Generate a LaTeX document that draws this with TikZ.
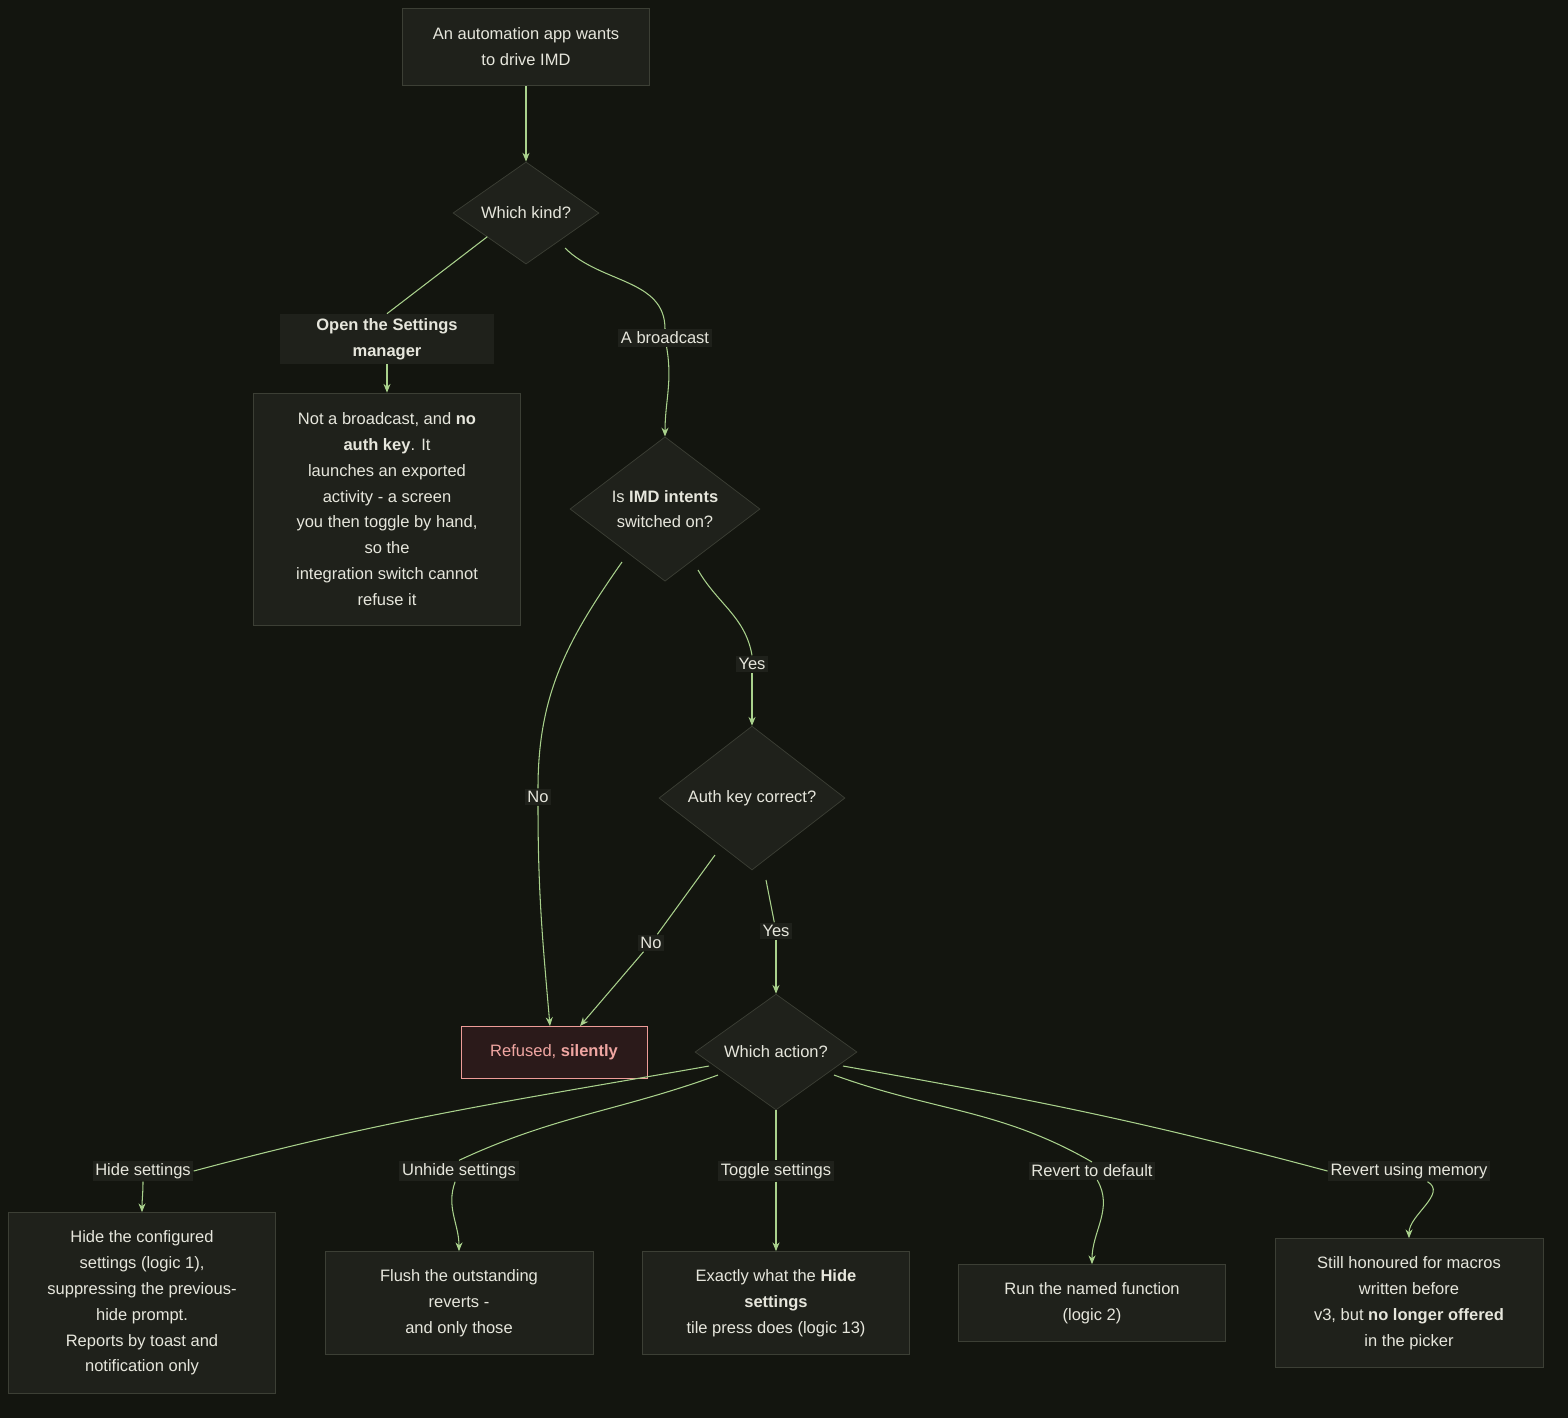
\documentclass[tikz,border=0pt]{standalone}
\usepackage{fontspec}
\setmainfont{Liberation Sans}
\usetikzlibrary{shapes.geometric,arrows.meta}
\definecolor{bgc}{HTML}{13150F}
\definecolor{boxfill}{HTML}{1F211B}
\definecolor{boxline}{HTML}{3C3F35}
\definecolor{wire}{HTML}{A9D18C}
\definecolor{txt}{HTML}{E6E6DC}
\definecolor{badfill}{HTML}{2B1A1A}
\definecolor{badline}{HTML}{EE9C98}
\begin{document}
\begin{tikzpicture}[x=0.02cm,y=-0.02cm,font=\fontsize{9.4}{14.7}\selectfont,text=txt]
    \tikzstyle{box node}=[rectangle,draw=boxline,fill=boxfill,align=center,inner sep=0]
    \tikzstyle{decision node}=[diamond,aspect=1,draw=boxline,fill=boxfill,align=center,inner sep=0]
    \tikzstyle{edge label}=[fill=boxfill,inner sep=1.5pt,align=center]
    \tikzstyle{wire}=[draw=wire,line width=0.6pt]
    \tikzstyle{arrow}=[wire,-{Stealth[length=5pt,width=4pt]}]

    \fill[bgc] (0,0) rectangle (1568,1418);

    \node(start)[box node,minimum width=4.94cm,minimum height=1.54cm] at (526,47) {An automation app wants\\to drive IMD};
    \node(kind)[decision node,minimum width=2.92cm] at (526,213) {Which kind?};
    \node(manual)[box node,minimum width=5.34cm,minimum height=4.64cm] at (387,509)
        {Not a broadcast, and \textbf{no}\\\textbf{auth key}. It\\launches an exported\\activity - a screen\\you then toggle by hand,\\so the\\integration switch cannot\\refuse it};
    \node(intents)[decision node,minimum width=3.8cm] at (665,509) {Is \textbf{IMD intents}\\switched on?};
    \node(auth)[decision node,minimum width=3.72cm] at (752,798) {Auth key correct?};
    \node(refused)[box node,draw=badline,fill=badfill,text=badline!90!white,minimum width=3.72cm,minimum height=1.04cm] at (554,1052) {Refused, \textbf{silently}};
    \node(action)[decision node,minimum width=3.24cm] at (776,1052) {Which action?};

    \node(hide)[box node,minimum width=5.34cm,minimum height=3.62cm] at (142,1303)
        {Hide the configured\\settings (logic 1),\\suppressing the previous-\\hide prompt.\\Reports by toast and\\notification only};
    \node(unhide)[box node,minimum width=5.36cm,minimum height=2.06cm] at (459,1303) {Flush the outstanding\\reverts -\\and only those};
    \node(toggle)[box node,minimum width=5.34cm,minimum height=2.06cm] at (776,1303) {Exactly what the \textbf{Hide}\\\textbf{settings}\\tile press does (logic 13)};
    \node(revert)[box node,minimum width=5.34cm,minimum height=1.54cm] at (1092,1303) {Run the named function\\(logic 2)};
    \node(memory)[box node,minimum width=5.36cm,minimum height=2.58cm] at (1409,1303)
        {Still honoured for macros\\written before\\v3, but \textbf{no longer offered}\\in the picker};

    % edge labels
    \node(lmanual)[edge label,minimum width=4.3cm,minimum height=1cm] at (387,339) {\textbf{Open the Settings}\\\textbf{manager}};
    \node(lbroad)[edge label] at (665,338) {A broadcast};
    \node(lyes1)[edge label] at (752,664) {Yes};
    \node(lno1)[edge label] at (538,797) {No};
    \node(lno2)[edge label] at (651,943) {No};
    \node(lyes2)[edge label] at (776,931) {Yes};
    \node(lhide)[edge label] at (143,1171) {Hide settings};
    \node(lunhide)[edge label] at (459,1171) {Unhide settings};
    \node(ltoggle)[edge label] at (776,1171) {Toggle settings};
    \node(lrevert)[edge label] at (1092,1171) {Revert to default};
    \node(lmemory)[edge label] at (1409,1171) {Revert using memory};

    \draw[arrow] (start) -- (kind);
    \draw[wire] (kind.south west) ++(-2,-2) -- (lmanual.north) ++(0,0);
    \draw[arrow] (lmanual) to[out=-90,in=90] (manual);
    \draw[wire] (565,248) to[out=-45,in=90] (lbroad.north);
    \draw[arrow] (lbroad) to[out=-80,in=90] (intents);
    \draw[wire] (698,570) to[out=-60,in=100] (lyes1.north);
    \draw[arrow] (lyes1) -- (auth);
    \draw[wire] (622,562) to[out=-125,in=90] (lno1.north);
    \draw[arrow] (lno1) to[out=-90,in=95] (550,1026);
    \draw[wire] (715,855) -- (lno2);
    \draw[arrow] (lno2) -- (580,1026);
    \draw[wire] (766,880) -- (lyes2);
    \draw[arrow] (lyes2) -- (action);

    \draw[wire] (709,1066) to[out=190,in=15] (lhide.east);
    \draw[arrow] (lhide) to[out=-90,in=90] (hide);
    \draw[wire] (718,1075) to[out=200,in=25] (lunhide.north);
    \draw[arrow] (lunhide) to[out=-110,in=90] (unhide);
    \draw[wire] (action) -- (ltoggle);
    \draw[arrow] (ltoggle) -- (toggle);
    \draw[wire] (834,1075) to[out=-20,in=150] (lrevert.north);
    \draw[arrow] (lrevert) to[out=-60,in=90] (revert);
    \draw[wire] (843,1066) to[out=-10,in=165] (lmemory.west);
    \draw[arrow] (lmemory) to[out=-30,in=90] (memory);
\end{tikzpicture}
\end{document}
